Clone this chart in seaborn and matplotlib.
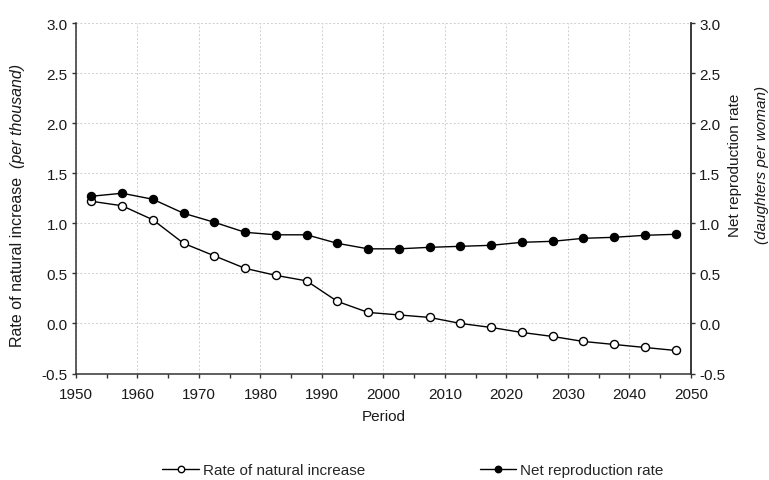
import matplotlib
matplotlib.use("Agg")
import matplotlib.pyplot as plt
import seaborn as sns
import pandas as pd
from matplotlib.ticker import MultipleLocator
from matplotlib.transforms import offset_copy

# Period midpoints (five-year periods 1950-1955 ... 2045-2050)
periods = [1952.5, 1957.5, 1962.5, 1967.5, 1972.5, 1977.5, 1982.5, 1987.5, 1992.5, 1997.5,
           2002.5, 2007.5, 2012.5, 2017.5, 2022.5, 2027.5, 2032.5, 2037.5, 2042.5, 2047.5]

natural_increase = [1.22, 1.175, 1.035, 0.80, 0.675, 0.55, 0.48, 0.425, 0.22, 0.11,
                    0.085, 0.06, 0.0, -0.04, -0.09, -0.13, -0.18, -0.21, -0.24, -0.27]

net_reproduction = [1.27, 1.30, 1.24, 1.10, 1.01, 0.91, 0.885, 0.885, 0.80, 0.745,
                    0.745, 0.76, 0.77, 0.78, 0.81, 0.82, 0.85, 0.86, 0.88, 0.89]

x_ticks = [1950, 1960, 1970, 1980, 1990, 2000, 2010, 2020, 2030, 2040, 2050]
y_ticks = [-0.5, 0.0, 0.5, 1.0, 1.5, 2.0, 2.5, 3.0]

df = pd.DataFrame({"period": periods, "rni": natural_increase, "nrr": net_reproduction})

sns.set_theme(style="white")
plt.rcParams["font.family"] = ["Liberation Sans", "DejaVu Sans"]
FS = 11
TXT = "#1a1a1a"
AXC = "#333333"

fig = plt.figure(figsize=(7.69, 4.81), dpi=100)
ax = fig.add_axes([0.0988, 0.2214, 0.7997, 0.7287])
ax2 = ax.twinx()

sns.lineplot(data=df, x="period", y="rni", ax=ax, color="black", linewidth=1.0,
             marker="o", markersize=5.8, markerfacecolor="white",
             markeredgecolor="black", markeredgewidth=1.0,
             label="Rate of natural increase", legend=False)
sns.lineplot(data=df, x="period", y="nrr", ax=ax2, color="black", linewidth=1.0,
             marker="o", markersize=5.8, markerfacecolor="black",
             markeredgecolor="black", markeredgewidth=1.0,
             label="Net reproduction rate", legend=False)

for a in (ax, ax2):
    a.set_ylim(-0.5, 3.0)
    a.set_yticks(y_ticks)
    a.set_yticklabels([f"{v:.1f}" for v in y_ticks], fontsize=FS, color=TXT)
    a.set_xlim(1950, 2050)
    a.set_ylabel("")
    for s in a.spines.values():
        s.set_color(AXC)
        s.set_linewidth(1.1)
    a.spines["top"].set_visible(False)

ax.set_xticks(x_ticks)
ax.set_xticklabels([str(v) for v in x_ticks], fontsize=FS, color=TXT)
ax.xaxis.set_minor_locator(MultipleLocator(5))
ax.set_xlabel("Period", fontsize=FS, color=TXT, labelpad=6)

ax.tick_params(axis="x", which="both", direction="out", length=3, width=1,
               color=AXC, bottom=True, pad=6.5)
ax.tick_params(axis="y", direction="out", length=3, width=1, color=AXC, left=True, pad=3)
ax2.tick_params(axis="y", direction="out", length=3, width=1, color=AXC, right=True, pad=3)

ax.grid(True, which="major", axis="both", color="#cfcfcf", linestyle=(0, (2, 2)), linewidth=0.7)
ax.set_axisbelow(True)
ax2.spines["left"].set_visible(False)
ax2.spines["bottom"].set_visible(False)

# Left axis title: regular text followed by the italic unit, two spaces apart
LFS = 11.5
t1 = ax.text(-0.0943, 0.0785, "Rate of natural increase", rotation=90, transform=ax.transAxes,
             ha="center", va="bottom", fontsize=LFS, color=TXT)
fig.canvas.draw()
ext = t1.get_window_extent(renderer=fig.canvas.get_renderer())
gap_px = 2 * 0.278 * LFS * fig.dpi / 72
_, y_top = ax.transAxes.inverted().transform((0, ext.y1 + gap_px))
ax.text(-0.0943, y_top, "(per thousand)", rotation=90, transform=ax.transAxes,
        ha="center", va="bottom", fontsize=LFS, style="italic", color=TXT)

# Right axis title on two lines, unit in italics
ax2.text(1.0715, 0.598, "Net reproduction rate", rotation=90, transform=ax.transAxes,
         ha="center", va="center", fontsize=FS, color=TXT)
ax2.text(1.1154, 0.598, "(daughters per woman)", rotation=90, transform=ax.transAxes,
         ha="center", va="center", fontsize=FS, style="italic", color=TXT)

h1, l1 = ax.get_legend_handles_labels()
h2, l2 = ax2.get_legend_handles_labels()
fig.legend(h1 + h2, l1 + l2, loc="center", bbox_to_anchor=(0.537, 0.02), ncol=2,
           frameon=False, fontsize=FS, columnspacing=7.5, handlelength=2.4,
           handletextpad=0.25, markerscale=0.8, borderpad=0)

fig.savefig("out.png", dpi=100)
